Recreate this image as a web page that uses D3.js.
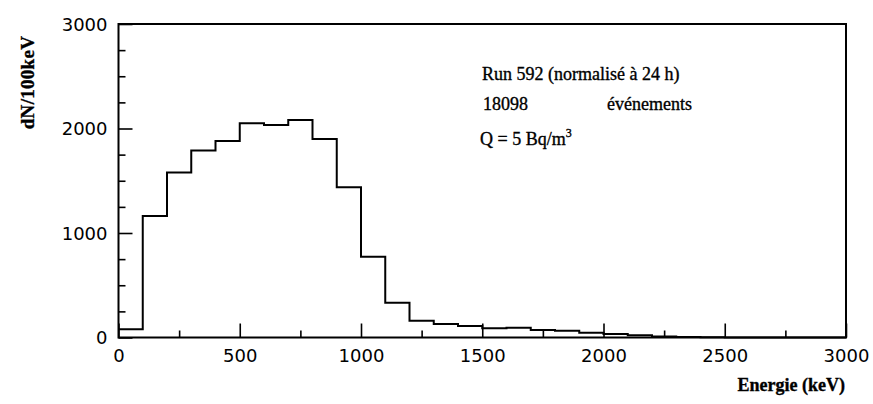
<!DOCTYPE html>
<html>
<head>
<meta charset="utf-8">
<script src="https://cdn.jsdelivr.net/npm/d3@7"></script>
<style>
  html, body { margin: 0; padding: 0; background: #fff; }
  svg { display: block; }
  .tick-label { font-family: "DejaVu Sans", sans-serif; font-size: 18px; fill: #000; }
  .serif { font-family: "Liberation Serif", "Times New Roman", serif; fill: #000; stroke: #000; stroke-width: 0.35px; }
</style>
</head>
<body>
<svg id="chart" width="873" height="404"></svg>
<script>
// Energy spectrum, 100 keV bins (lower edge of each bin, keV)
const binStarts = [0, 100, 200, 300, 400, 500, 600, 700, 800, 900,
                   1000, 1100, 1200, 1300, 1400, 1500, 1600, 1700, 1800, 1900,
                   2000, 2100, 2200, 2300, 2400, 2500, 2600, 2700, 2800, 2900];
const binWidth = 100;
// Counts per 100 keV bin
const counts = [78, 1163, 1579, 1790, 1880, 2050, 2033, 2081, 1900, 1437,
                773, 333, 161, 129, 110, 88, 94, 72, 65, 46,
                33, 21, 10, 4, 2, 1, 1, 0, 0, 0];

const xMajorTicks = [0, 500, 1000, 1500, 2000, 2500, 3000];
const xMinorTicks = [250, 750, 1250, 1750, 2250, 2750];
const yMajorTicks = [0, 1000, 2000, 3000];
const yMinorTicks = [250, 500, 750, 1250, 1500, 1750, 2250, 2500, 2750];

const infoLines = ["Run 592 (normalisé à 24 h)", "18098", "événements"];

const svg = d3.select("#chart");
const plotLeft = 118.5, plotRight = 846, plotTop = 24, plotBottom = 337.5;

const x = d3.scaleLinear().domain([0, 3000]).range([plotLeft, plotRight]);
const y = d3.scaleLinear().domain([0, 3000]).range([plotBottom, plotTop]);

// Histogram outline as a step line
const pts = binStarts.map((b, i) => [b, counts[i]]);
pts.push([binStarts[binStarts.length - 1] + binWidth, counts[counts.length - 1]]);
const step = d3.line().x(d => x(d[0])).y(d => y(d[1])).curve(d3.curveStepAfter);

svg.append("path")
  .attr("d", step(pts))
  .attr("fill", "none")
  .attr("stroke", "#000")
  .attr("stroke-width", 2);

// Frame
svg.append("rect")
  .attr("x", plotLeft).attr("y", plotTop)
  .attr("width", plotRight - plotLeft).attr("height", plotBottom - plotTop)
  .attr("fill", "none").attr("stroke", "#000").attr("stroke-width", 2);

// Axes with inward ticks
function styleAxis(g) {
  g.select(".domain").remove();
  g.selectAll(".tick line").attr("stroke", "#000").attr("stroke-width", 1.6);
}

svg.append("g").attr("transform", `translate(0,${plotBottom})`)
  .call(d3.axisBottom(x).tickValues(xMinorTicks).tickSize(-7).tickFormat(""))
  .call(styleAxis);
const xg = svg.append("g").attr("transform", `translate(0,${plotBottom})`)
  .call(d3.axisBottom(x).tickValues(xMajorTicks).tickSize(-14).tickPadding(0).tickFormat(d3.format("d")))
  .call(styleAxis);
xg.selectAll(".tick text")
  .attr("class", "tick-label")
  .attr("y", 24)
  .attr("dy", 0)
  .style("font-family", "DejaVu Sans, sans-serif").style("font-size", "18px");

svg.append("g").attr("transform", `translate(${plotLeft},0)`)
  .call(d3.axisLeft(y).tickValues(yMinorTicks).tickSize(-7).tickFormat(""))
  .call(styleAxis);
const yg = svg.append("g").attr("transform", `translate(${plotLeft},0)`)
  .call(d3.axisLeft(y).tickValues(yMajorTicks).tickSize(-14).tickFormat(d3.format("d")))
  .call(styleAxis);
yg.selectAll(".tick text")
  .attr("class", "tick-label")
  .attr("x", -11)
  .attr("dy", "0.36em")
  .style("font-family", "DejaVu Sans, sans-serif").style("font-size", "18px");

// Axis titles
svg.append("text")
  .attr("class", "serif")
  .attr("transform", "translate(34,82.5) rotate(-90)")
  .attr("text-anchor", "middle")
  .style("font-size", "19px").style("font-weight", "bold")
  .style("letter-spacing", "0.3px")
  .text("dN/100keV");

svg.append("text")
  .attr("class", "serif")
  .attr("x", 845).attr("y", 391)
  .attr("text-anchor", "end")
  .style("font-size", "18px").style("font-weight", "bold")
  .text("Energie (keV)");

// Run information
svg.append("text").attr("class", "serif")
  .attr("x", 482).attr("y", 80)
  .style("font-size", "18px")
  .text(infoLines[0]);
svg.append("text").attr("class", "serif")
  .attr("x", 483).attr("y", 110)
  .style("font-size", "18px")
  .text(infoLines[1]);
svg.append("text").attr("class", "serif")
  .attr("x", 607).attr("y", 110)
  .style("font-size", "18px")
  .text(infoLines[2]);

const q = svg.append("text").attr("class", "serif")
  .attr("x", 480).attr("y", 145)
  .style("font-size", "18px");
q.append("tspan").text("Q = 5 Bq/m");
q.append("tspan").attr("dy", -8).style("font-size", "12px").text("3");
</script>
</body>
</html>
